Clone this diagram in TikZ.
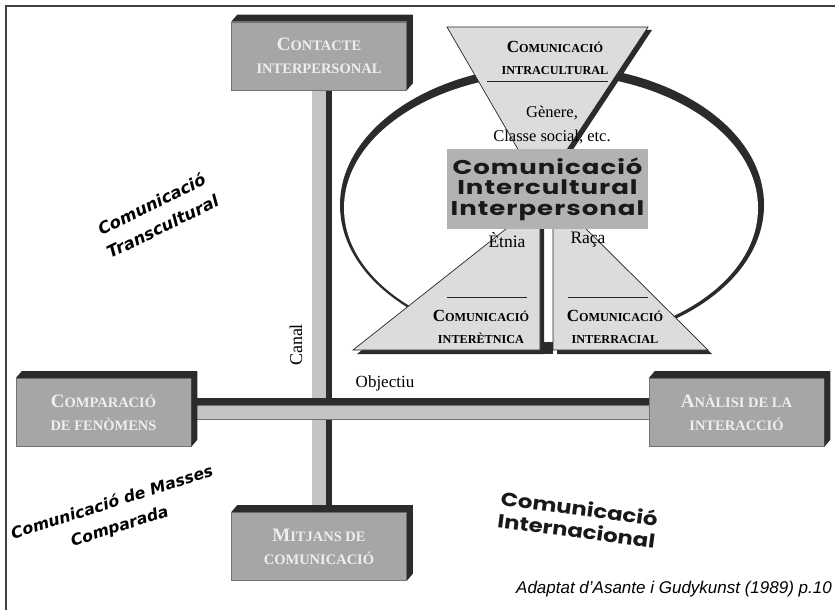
\documentclass[tikz,border=0pt]{standalone}
\usepackage{fontspec}
\setmainfont{Liberation Serif}
\newfontfamily\comicf{DejaVu Sans}
\newfontfamily\roundf{Poppins}[FakeStretch=1.3, LetterSpace=5]
\newfontfamily\roundg{Poppins}[FakeStretch=1.2]
\newfontfamily\capfont{Liberation Sans}
\usetikzlibrary{backgrounds,calc}
\definecolor{facegray}{HTML}{A6A6A6}
\definecolor{shadedark}{HTML}{2B2B2B}
\definecolor{barlight}{HTML}{C4C4C4}
\definecolor{trifill}{HTML}{DCDCDC}
\definecolor{centergray}{HTML}{B2B2B2}
\definecolor{boxtext}{HTML}{EEEEEE}
\newcommand{\BxBig}[1]{{\fontsize{19}{23}\selectfont #1}}
\newcommand{\TrBig}[1]{{\fontsize{17}{22}\selectfont #1}}
\newcommand{\extrude}[1]{\fill[shadedark] (#1.north west) -- ([shift={(6,-7)}]#1.north west) -- ([shift={(6,-7)}]#1.north east) -- ([shift={(6,-7)}]#1.south east) -- (#1.south east) -- (#1.north east) -- cycle;}
\tikzset{
  facebox/.style={fill=facegray, draw=black!55, line width=0.6pt, inner sep=0pt, align=center,
    text=boxtext, minimum width=175pt, minimum height=68pt, font=\bfseries\fontsize{14.5}{23}\selectfont},
  tri/.style={fill=trifill, draw=black!85, line width=0.7pt},
  trishadow/.style={fill=shadedark},
  trilabel/.style={align=center, inner sep=0pt, text=black, font=\bfseries\fontsize{12.2}{22}\selectfont},
  serifl/.style={inner sep=0pt, text=black, font=\fontsize{16.5}{16.5}\selectfont},
  comic/.style={align=center, inner sep=0pt, text=black, font=\comicf\bfseries\itshape\fontsize{16.5}{25}\selectfont},
  roundtext/.style={align=center, inner sep=0pt, text=black!90, font=\roundg\bfseries\fontsize{19}{22}\selectfont},
  barout/.style={draw=black!55, line width=15pt},
  barin/.style={draw=barlight, line width=13.4pt},
  bardark/.style={draw=shadedark, line width=6.5pt}
}
\begin{document}
\begin{tikzpicture}[x=1pt,y=-1pt]
\useasboundingbox (0,0) rectangle (835,610);
\draw[black!75, line width=1.6pt] (6,610) -- (6,6) -- (835,6);

% boxes
\node[facebox] (cont) at (319,56) {\BxBig{C}ONTACTE\\INTERPERSONAL};
\node[facebox] (comp) at (103.5,412.5) {\BxBig{C}OMPARACIÓ\\DE FENÒMENS};
\node[facebox] (mitj) at (319,546.5) {\BxBig{M}ITJANS DE\\COMUNICACIÓ};
\node[facebox] (anal) at (736.5,412.5) {\BxBig{A}NÀLISI DE LA\\INTERACCIÓ};
\extrude{cont}
\extrude{comp}
\extrude{mitj}
\extrude{anal}

\begin{scope}[on background layer]
  \fill[white] (0,0) rectangle (835,610);
  \draw[barout] (cont.center) -- (mitj.center);
  \draw[barin] (cont.center) -- (mitj.center);
  \draw[bardark] ([xshift=10pt]cont.center) -- ([xshift=10pt]mitj.center);
  \draw[barout] (comp.center) -- (anal.center);
  \draw[barin] (comp.center) -- (anal.center);
  \draw[bardark] ([yshift=11pt]comp.center) -- ([yshift=11pt]anal.center);
  % ellipse
  \fill[shadedark] (552,205) ellipse [x radius=212, y radius=140];
  \fill[white] (551,208) ellipse [x radius=207, y radius=134];
\end{scope}

\node[serifl, font=\fontsize{18}{18}\selectfont, rotate=90] (canal) at (296,345) {Canal};
\node[serifl, font=\fontsize{17}{17}\selectfont] (obj) at (385,383) {Objectiu};

% top triangle
\coordinate (tA) at (447,27);
\coordinate (tB) at (648,27);
\coordinate (tC) at (541,189);
\fill[trishadow] ([shift={(4,3)}]tA) -- ([shift={(4,3)}]tB) -- ([shift={(4,3)}]tC) -- cycle;
\fill[trifill] (tA) -- (tB) -- (tC) -- cycle;
\node[trilabel] (intra) at (555,58) {\TrBig{C}OMUNICACIÓ\\INTRACULTURAL};
\draw[black!85, line width=0.8pt] (487,81) -- (608,81);
\node[serifl] (gen) at (552,113) {Gènere,};
\node[serifl] (cls) at (552,137) {Classe social, etc.};
\draw[tri, fill=none] (tA) -- (tB) -- (tC) -- cycle;

% lower triangles
\coordinate (lA) at (353,350);
\coordinate (lB) at (540,350);
\coordinate (lC) at (540,202);
\coordinate (rA) at (553,196);
\coordinate (rB) at (553,350);
\coordinate (rC) at (708,350);
\fill[trishadow] ([shift={(4,4)}]lA) -- ([shift={(4,4)}]lB) -- ([shift={(4,4)}]lC) -- cycle;
\fill[trishadow] ([shift={(4,4)}]rA) -- ([shift={(4,4)}]rB) -- ([shift={(4,4)}]rC) -- cycle;
\fill[trishadow] (544,344) rectangle (553,354);
\draw[tri] (lA) -- (lB) -- (lC) -- cycle;
\draw[tri] (rA) -- (rB) -- (rC) -- cycle;
\draw[black!85, line width=0.8pt] (447,297) -- (527,297);
\draw[black!85, line width=0.8pt] (568,297) -- (648,297);
\node[trilabel] (etn) at (481,327) {\TrBig{C}OMUNICACIÓ\\INTERÈTNICA};
\node[trilabel] (rac) at (615,327) {\TrBig{C}OMUNICACIÓ\\INTERRACIAL};
\node[serifl, font=\fontsize{17.5}{17.5}\selectfont] (etnia) at (507,240) {Ètnia};
\node[serifl, font=\fontsize{17.5}{17.5}\selectfont] (raca) at (588,240) {Raça};

% central box
\node[fill=centergray, minimum width=201pt, minimum height=80pt, inner sep=0pt,
  align=center, text=black!90, font=\roundf\bfseries\fontsize{20}{20.5}\selectfont] (cen) at (547.5,189)
  {Comunicació\\Intercultural\\Interpersonal};

% rotated labels
\node[comic, rotate=26] (trans) at (157,215) {Comunicació\\Transcultural};
\node[comic, font=\comicf\bfseries\itshape\fontsize{15.8}{25}\selectfont, rotate=17.5] (masses) at (116,515) {Comunicació de Masses\\Comparada};
\node[roundtext, rotate=-7.5] (inter) at (578,519) {Comunicació\\Internacional};

\node[anchor=east, inner sep=0pt, font=\capfont\itshape\fontsize{17}{17}\selectfont] (cap) at (832,589)
  {Adaptat d’Asante i Gudykunst (1989) p.10};
\end{tikzpicture}
\end{document}
